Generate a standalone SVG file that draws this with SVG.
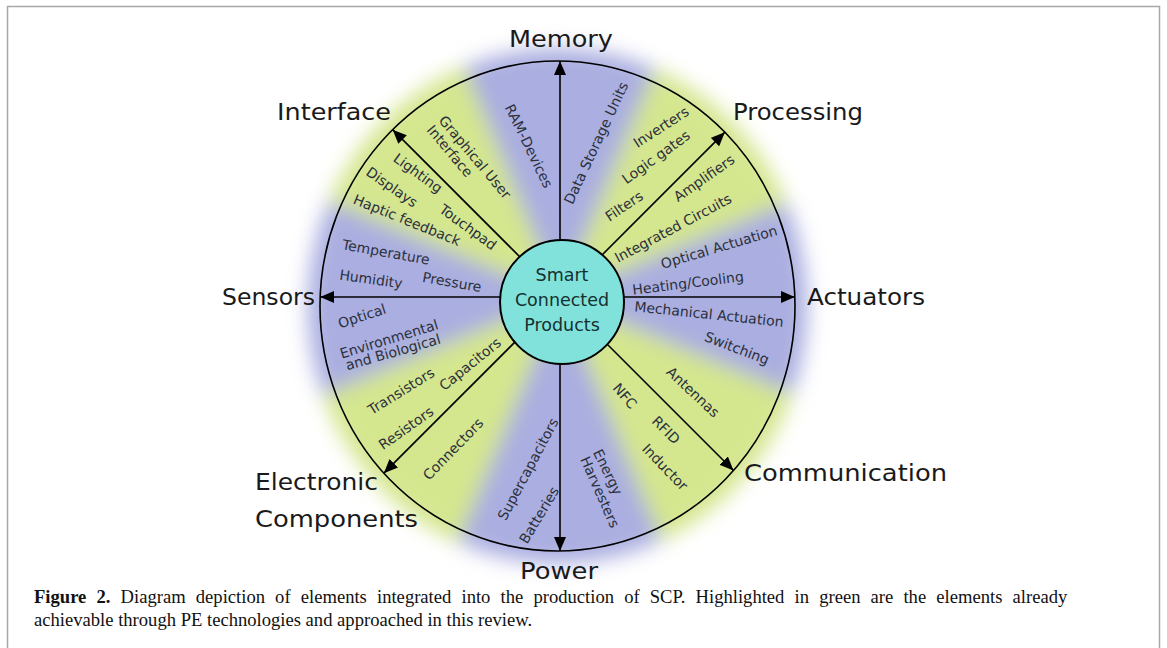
<svg xmlns="http://www.w3.org/2000/svg" width="1167" height="648" viewBox="0 0 1167 648">
<style>
.lab{font-family:"DejaVu Sans","Liberation Sans",sans-serif;font-size:23px;fill:#1a1a1a}
.lbl{font-family:"DejaVu Sans","Liberation Sans",sans-serif;font-size:14px;fill:#2c303c;text-anchor:middle;dominant-baseline:central}
.ctr{font-family:"DejaVu Sans","Liberation Sans",sans-serif;font-size:17.5px;fill:#16302f;text-anchor:middle}
.cap{font-family:"Liberation Serif","Times New Roman",serif;font-size:18.6px;fill:#111}
.arr{stroke:#000;stroke-width:1.6;fill:none;marker-end:url(#ah)}
</style>
<defs>
<filter id="soft" x="-20%" y="-20%" width="140%" height="140%"><feGaussianBlur stdDeviation="10"/></filter>
<clipPath id="disc"><ellipse cx="557.5" cy="306" rx="250" ry="258"/></clipPath>
<marker id="ah" markerUnits="userSpaceOnUse" markerWidth="16" markerHeight="12" refX="14" refY="6" orient="auto"><path d="M0,0 L14,6 L0,12 Z" fill="#000"/></marker>
</defs>
<rect width="1167" height="648" fill="#fff"/>
<path d="M7.5,648 V6.5 H1159.5 V648" fill="none" stroke="#a8a8a8" stroke-width="1.5"/>
<g id="sectors" filter="url(#soft)">
<g clip-path="url(#disc)">
<ellipse cx="557.5" cy="306" rx="250" ry="258" fill="#aaaee0"/>
<g fill="#d4e68e">
<path d="M560,297 L837.2,182.2 L674.8,19.8 Z"/>
<path d="M560,297 L445.2,19.8 L282.8,182.2 Z"/>
<path d="M560,297 L282.8,411.8 L445.2,574.2 Z"/>
<path d="M560,297 L674.8,574.2 L837.2,411.8 Z"/>
</g>
</g>
</g>
<ellipse id="rim" cx="557.5" cy="306" rx="237.5" ry="245" fill="none" stroke="#000" stroke-width="1.6"/>
<g id="connectors">
<path class="arr" d="M560,297 L560,61"/>
<path class="arr" d="M560,297 L560,551"/>
<path class="arr" d="M560,297 L320.2,297"/>
<path class="arr" d="M560,297 L794.8,297"/>
<path class="arr" d="M560,297 L724.85,132.15"/>
<path class="arr" d="M560,297 L392.65,129.65"/>
<path class="arr" d="M560,297 L383.85,473.15"/>
<path class="arr" d="M560,297 L733.5,470.5"/>
</g>
<g id="hub">
<circle cx="562" cy="302" r="62" fill="#80e2da" stroke="#000" stroke-width="2"/>
<text class="ctr" x="562" y="281">Smart</text>
<text class="ctr" x="562" y="306">Connected</text>
<text class="ctr" x="562" y="331">Products</text>
</g>
<g id="memory">
<text class="lab" x="509" y="47" textLength="104" lengthAdjust="spacingAndGlyphs">Memory</text>
<text class="lbl" transform="translate(529,146) rotate(64)">RAM-Devices</text>
<text class="lbl" transform="translate(596,143) rotate(-65)">Data Storage Units</text>
</g>
<g id="processing">
<text class="lab" x="733" y="120" textLength="130" lengthAdjust="spacingAndGlyphs">Processing</text>
<text class="lbl" transform="translate(661,127) rotate(-33)">Inverters</text>
<text class="lbl" transform="translate(656,157) rotate(-36)">Logic gates</text>
<text class="lbl" transform="translate(624,206) rotate(-34)">Filters</text>
<text class="lbl" transform="translate(704,178) rotate(-35)">Amplifiers</text>
<text class="lbl" transform="translate(673,228) rotate(-28)">Integrated Circuits</text>
</g>
<g id="actuators">
<text class="lab" x="807" y="305" textLength="118" lengthAdjust="spacingAndGlyphs">Actuators</text>
<text class="lbl" transform="translate(719,247) rotate(-16.5)">Optical Actuation</text>
<text class="lbl" transform="translate(688,283) rotate(-7)">Heating/Cooling</text>
<text class="lbl" transform="translate(709,314) rotate(6)">Mechanical Actuation</text>
<text class="lbl" transform="translate(737,348) rotate(21)">Switching</text>
</g>
<g id="communication">
<text class="lab" x="744" y="481" textLength="203" lengthAdjust="spacingAndGlyphs">Communication</text>
<text class="lbl" transform="translate(693,392) rotate(43)">Antennas</text>
<text class="lbl" transform="translate(625,396) rotate(49)">NFC</text>
<text class="lbl" transform="translate(666,430) rotate(45)">RFID</text>
<text class="lbl" transform="translate(665,467) rotate(46)">Inductor</text>
</g>
<g id="power">
<text class="lab" x="520" y="579" textLength="78" lengthAdjust="spacingAndGlyphs">Power</text>
<text class="lbl" transform="translate(608,472) rotate(64)">Energy</text>
<text class="lbl" transform="translate(600,492) rotate(66)">Harvesters</text>
<text class="lbl" transform="translate(528,469) rotate(-62)">Supercapacitors</text>
<text class="lbl" transform="translate(539,515) rotate(-59)">Batteries</text>
</g>
<g id="electronic">
<text class="lab" x="255" y="490" textLength="123" lengthAdjust="spacingAndGlyphs">Electronic</text>
<text class="lab" x="255" y="527" textLength="163" lengthAdjust="spacingAndGlyphs">Components</text>
<text class="lbl" transform="translate(401,391) rotate(-32)">Transistors</text>
<text class="lbl" transform="translate(470,364) rotate(-39)">Capacitors</text>
<text class="lbl" transform="translate(406,428) rotate(-35)">Resistors</text>
<text class="lbl" transform="translate(453,449) rotate(-46)">Connectors</text>
</g>
<g id="sensors">
<text class="lab" x="222" y="305" textLength="93" lengthAdjust="spacingAndGlyphs">Sensors</text>
<text class="lbl" transform="translate(386,252) rotate(10)">Temperature</text>
<text class="lbl" transform="translate(371,279) rotate(8)">Humidity</text>
<text class="lbl" transform="translate(452,282) rotate(10)">Pressure</text>
<text class="lbl" transform="translate(362,316) rotate(-18)">Optical</text>
<text class="lbl" transform="translate(389,339) rotate(-17)">Environmental</text>
<text class="lbl" transform="translate(393,352) rotate(-16)">and Biological</text>
</g>
<g id="interface">
<text class="lab" x="277" y="120" textLength="114" lengthAdjust="spacingAndGlyphs">Interface</text>
<text class="lbl" transform="translate(475,157) rotate(50)">Graphical User</text>
<text class="lbl" transform="translate(450,151) rotate(50)">Interface</text>
<text class="lbl" transform="translate(418,173) rotate(36)">Lighting</text>
<text class="lbl" transform="translate(392,187) rotate(35)">Displays</text>
<text class="lbl" transform="translate(407,220) rotate(22)">Haptic feedback</text>
<text class="lbl" transform="translate(468,227) rotate(36)">Touchpad</text>
</g>
<g id="caption">
<text class="cap" x="34" y="603" word-spacing="5.5"><tspan font-weight="bold">Figure 2.</tspan> Diagram depiction of elements integrated into the production of SCP. Highlighted in green are the elements already</text>
<text class="cap" x="34" y="626">achievable through PE technologies and approached in this review.</text>
</g>
</svg>
